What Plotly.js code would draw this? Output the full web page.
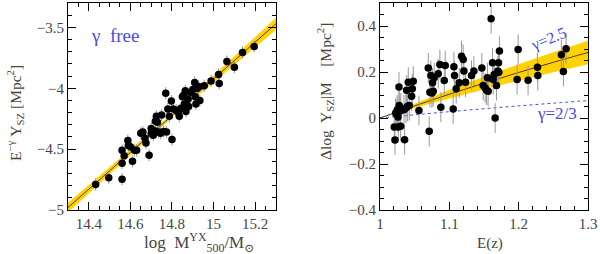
<!DOCTYPE html>
<html><head><meta charset="utf-8">
<script src="https://cdn.plot.ly/plotly-3.0.1.min.js"></script>
<style>html,body{margin:0;padding:0;background:#fff}#c{width:600px;height:254px}</style>
</head><body><div id="c"></div>
<script>
// Left panel: log M500 vs E^-gamma Y_SZ
const leftX = [14.433,14.496,14.56,14.56,14.56,14.57,14.588,14.59,14.6,14.61,14.62,14.63,14.65,14.66,14.67,14.675,14.69,14.7,14.70,14.71,14.72,14.72,14.725,14.73,14.736,14.745,14.75,14.76,14.77,14.774,14.787,14.78,14.797,14.8,14.806,14.82,14.83,14.835,14.843,14.85,14.857,14.86,14.864,14.867,14.87,14.877,14.88,14.89,14.9,14.909,14.912,14.915,14.92,14.928,14.934,14.955,14.988,15.024,15.027,15.064,15.1,15.139,15.195];
const leftY = [-4.79,-4.736,-4.51,-4.615,-4.747,-4.555,-4.43,-4.47,-4.48,-4.6,-4.51,-4.51,-4.37,-4.36,-4.41,-4.45,-4.55,-4.33,-4.37,-4.385,-4.35,-4.27,-4.23,-4.28,-4.36,-4.37,-4.22,-4.355,-4.04,-4.36,-4.23,-4.17,-4.105,-4.42,-4.17,-4.18,-4.2,-4.23,-4.165,-4.07,-4.055,-4.13,-4.02,-4.19,-4.14,-4.09,-4.15,-4.035,-4.01,-3.953,-4.07,-4.13,-4.0,-3.986,-4.1,-3.98,-3.94,-3.887,-3.96,-3.78,-3.827,-3.706,-3.657];
const leftFitX = [14.3, 14.8, 15.3];
const leftFitY = [-4.98, -4.225, -3.47];
const leftBandLo = [-5.02, -4.24, -3.52];
const leftBandHi = [-4.94, -4.21, -3.42];
const leftXTicks = [14.4, 14.6, 14.8, 15, 15.2];
const leftXTickText = ['14.4','14.6','14.8','15','15.2'];
const leftYTicks = [-5, -4.5, -4, -3.5];
const leftYTickText = ['\u22125','\u22124.5','\u22124','\u22123.5'];

// Right panel: E(z) vs Delta log Y_SZ|M
const rightX = [1.0206,1.0216,1.0226,1.024,1.025,1.026,1.0264,1.0274,1.0278,1.0288,1.0298,1.030,1.0346,1.0355,1.0374,1.0384,1.0398,1.0408,1.0422,1.0456,1.0466,1.048,1.0562,1.0696,1.071,1.072,1.0734,1.0749,1.0758,1.0768,1.0782,1.084,1.0864,1.0878,1.0927,1.0941,1.1056,1.1066,1.1075,1.1099,1.1143,1.1176,1.12,1.121,1.1234,1.132,1.1354,1.1469,1.1488,1.1517,1.1536,1.156,1.155,1.1603,1.1623,1.1632,1.1647,1.1661,1.168,1.17,1.1709,1.1714,1.1723,1.1992,1.1978,1.2136,1.2271,1.2276,1.2616,1.2645,1.2684];
const rightY = [-0.039,-0.096,0.022,0.015,0.036,0.004,-0.039,0.135,0.054,0.029,-0.036,0.044,0.036,-0.095,0.044,0.121,0.051,0.156,0.054,0.095,0.127,0.16,0.033,0.218,-0.058,0.112,0.185,0.109,0.153,0.116,0.175,0.193,0.233,0.047,0.163,0.228,0.039,0.223,0.185,0.127,0.153,0.269,0.255,0.204,0.156,0.185,0.204,0.218,0.141,0.131,0.121,0.116,0.175,0.432,0.24,0.167,0.189,0.0,0.141,0.204,0.24,0.199,0.291,0.298,0.167,0.164,0.221,0.185,0.275,0.202,0.301];
const rightCurveX = [1.0, 1.05, 1.1, 1.15, 1.2, 1.25, 1.3];
const rightFitY = [0, 0.053, 0.1035, 0.1517, 0.198, 0.2423, 0.2849];
const rightBandLo = [0, 0.0434, 0.0849, 0.1244, 0.1623, 0.1987, 0.2336];
const rightBandHi = [0, 0.0625, 0.1221, 0.179, 0.2336, 0.2859, 0.3361];
const rightSelfSim = [0, 0.0141, 0.0276, 0.0405, 0.0528, 0.0646, 0.076];
const rightXTicks = [1, 1.1, 1.2, 1.3];
const rightXTickText = ['1','1.1','1.2','1.3'];
const rightYTicks = [-0.4, -0.2, 0, 0.2, 0.4];
const rightYTickText = ['\u22120.4','\u22120.2','0','0.2','0.4'];

const FONT = '"Liberation Serif", "DejaVu Serif", serif';
const GOLD = '#ffd200';
const LINE = '#5a3a20';
const BLUE = '#4a4ae0';
const TXT = '#444';

const traces = [
  {x: leftFitX, y: leftBandLo, xaxis:'x', yaxis:'y', mode:'lines', line:{width:0, color:GOLD}, hoverinfo:'skip', showlegend:false},
  {x: leftFitX, y: leftBandHi, xaxis:'x', yaxis:'y', mode:'lines', line:{width:0, color:GOLD}, fill:'tonexty', fillcolor:GOLD, hoverinfo:'skip', showlegend:false},
  {x: leftFitX, y: leftFitY, xaxis:'x', yaxis:'y', mode:'lines', line:{width:1, color:LINE}, showlegend:false},
  {x: leftX, y: leftY, xaxis:'x', yaxis:'y', mode:'markers', marker:{size:7.5, color:'#000'},
   error_y:{type:'constant', value:0.05, color:'#999', thickness:1, width:0},
   error_x:{type:'constant', value:0.015, color:'#999', thickness:1, width:0}, showlegend:false},

  {x: rightCurveX, y: rightBandLo, xaxis:'x2', yaxis:'y2', mode:'lines', line:{width:0, color:GOLD, shape:'spline'}, hoverinfo:'skip', showlegend:false},
  {x: rightCurveX, y: rightBandHi, xaxis:'x2', yaxis:'y2', mode:'lines', line:{width:0, color:GOLD, shape:'spline'}, fill:'tonexty', fillcolor:GOLD, hoverinfo:'skip', showlegend:false},
  {x: rightCurveX, y: rightSelfSim, xaxis:'x2', yaxis:'y2', mode:'lines', line:{width:1, color:BLUE, dash:'3px,3px', shape:'spline'}, showlegend:false},
  {x: rightCurveX, y: rightFitY, xaxis:'x2', yaxis:'y2', mode:'lines', line:{width:1, color:LINE, shape:'spline'}, showlegend:false},
  {x: rightX, y: rightY, xaxis:'x2', yaxis:'y2', mode:'markers', marker:{size:7.5, color:'#000'},
   error_y:{type:'constant', value:0.065, color:'#999', thickness:1, width:0}, showlegend:false}
];

const ax = (extra) => Object.assign({
  showgrid:false, zeroline:false, showline:true, linecolor:'#000', linewidth:1,
  mirror:'allticks', ticks:'inside', ticklen:8, tickcolor:'#000', tickwidth:1,
  tickfont:{family:FONT, size:15, color:TXT}, tickmode:'array'
}, extra);

const ann = (o) => Object.assign({xanchor:'center', yanchor:'middle', showarrow:false}, o);

const layout = {
  width:600, height:254, margin:{l:0, r:0, t:0, b:0},
  paper_bgcolor:'#fff', plot_bgcolor:'#fff', showlegend:false,
  xaxis: ax({domain:[0.1133, 0.46], range:[14.3, 15.3], anchor:'y', tickvals:leftXTicks, ticktext:leftXTickText,
    minor:{dtick:0.05, tick0:14.3, ticks:'inside', ticklen:4, tickcolor:'#000', showgrid:false}}),
  yaxis: ax({domain:[0.1732, 0.988], range:[-5, -3.3], anchor:'x', tickvals:leftYTicks, ticktext:leftYTickText,
    minor:{dtick:0.1, tick0:-5, ticks:'inside', ticklen:4, tickcolor:'#000', showgrid:false}}),
  xaxis2: ax({domain:[0.6333, 0.98], range:[1, 1.3], anchor:'y2', tickvals:rightXTicks, ticktext:rightXTickText,
    minor:{dtick:0.02, tick0:1, ticks:'inside', ticklen:4, tickcolor:'#000', showgrid:false}}),
  yaxis2: ax({domain:[0.1732, 0.988], range:[-0.4, 0.5], anchor:'x2', tickvals:rightYTicks, ticktext:rightYTickText,
    minor:{dtick:0.05, tick0:-0.4, ticks:'inside', ticklen:4, tickcolor:'#000', showgrid:false}}),
  annotations: [
    ann({text:'\u03b3  free', xref:'x', yref:'y', x:14.4, y:-3.57, xanchor:'left', font:{family:FONT, size:19, color:BLUE}}),
    ann({text:'\u03b3=2.5', xref:'x2', yref:'y2', x:1.243, y:0.345, textangle:-22, font:{family:FONT, size:16, color:BLUE}}),
    ann({text:'\u03b3=2/3', xref:'x2', yref:'y2', x:1.256, y:0.02, font:{family:FONT, size:17, color:BLUE}}),
    ann({text:'log  M<sup>YX</sup><sub>500</sub>/M<sub>\u2299</sub>', xref:'paper', yref:'paper', x:199/600, y:1-242/254, font:{family:FONT, size:17, color:TXT}}),
    ann({text:'E<sup>\u2212\u03b3</sup> Y<sub>SZ</sub> [Mpc<sup>2</sup>]', xref:'paper', yref:'paper', x:15/600, y:1-113/254, textangle:-90, font:{family:FONT, size:15.5, color:TXT}}),
    ann({text:'E(z)', xref:'paper', yref:'paper', x:490/600, y:1-243/254, font:{family:FONT, size:15, color:TXT}}),
    ann({text:'\u0394log  Y<sub>SZ</sub>|M    [Mpc<sup>2</sup>]', xref:'paper', yref:'paper', x:325/600, y:1-92/254, textangle:-90, font:{family:FONT, size:15.5, color:TXT}})
  ]
};

Plotly.newPlot('c', traces, layout, {staticPlot:true, displayModeBar:false});
</script>
</body></html>
